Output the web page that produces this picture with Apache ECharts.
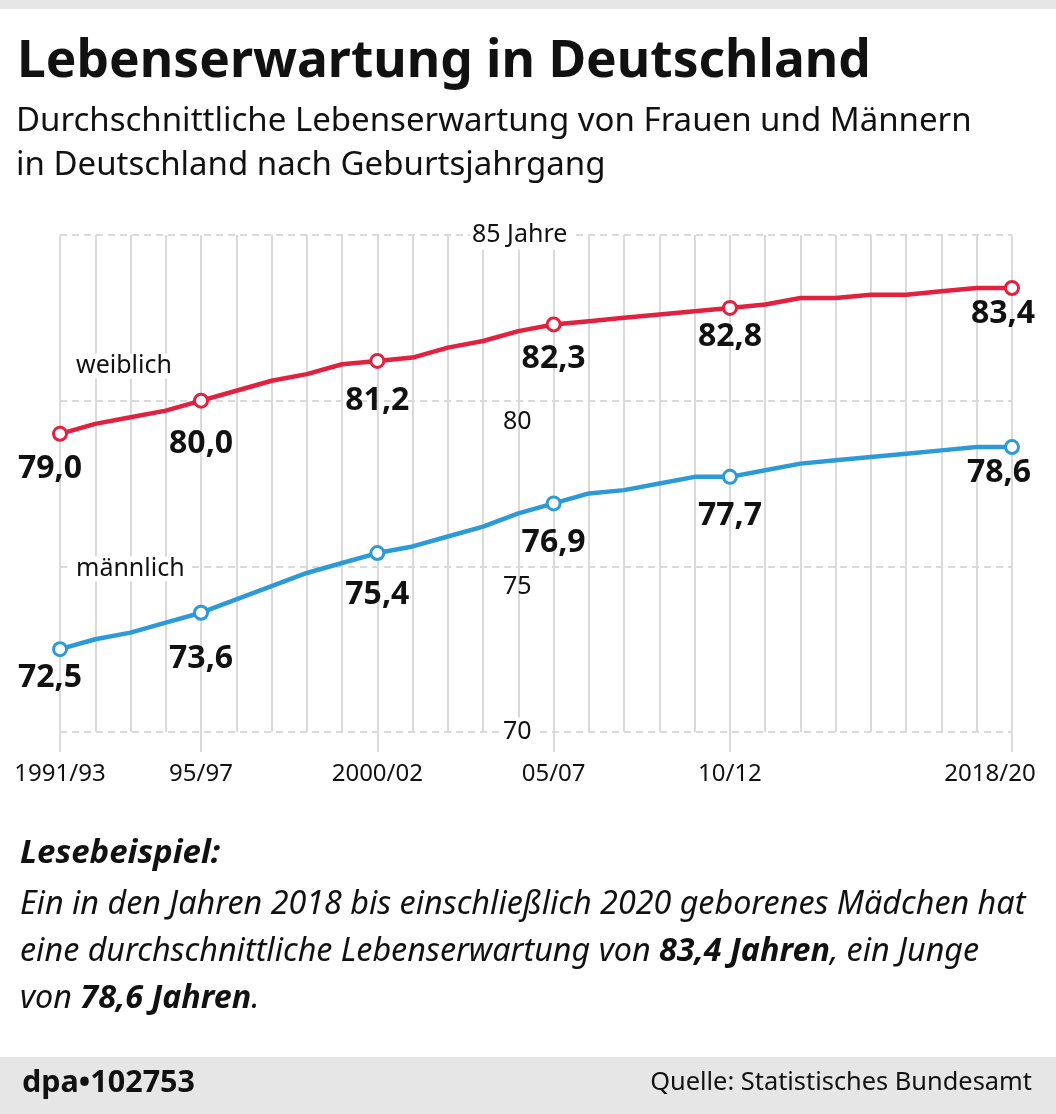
<!DOCTYPE html>
<html>
<head>
<meta charset="utf-8">
<script src="https://cdn.jsdelivr.net/npm/echarts@6/dist/echarts.min.js"></script>
<style>
html,body{margin:0;padding:0;background:#fff;}
#c{width:1056px;height:1114px;}
</style>
</head>
<body>
<div id="c"></div>
<script>
// ---- data ----
const categories = ['1991/93','1992/94','1993/95','1994/96','1995/97','1996/98','1997/99','1998/2000','1999/2001','2000/02','2001/03','2002/04','2003/05','2004/06','2005/07','2006/08','2007/09','2008/10','2009/11','2010/12','2011/13','2012/14','2013/15','2014/16','2015/17','2016/18','2017/19','2018/20'];
const weiblich = [79.0,79.3,79.5,79.7,80.0,80.3,80.6,80.8,81.1,81.2,81.3,81.6,81.8,82.1,82.3,82.4,82.5,82.6,82.7,82.8,82.9,83.1,83.1,83.2,83.2,83.3,83.4,83.4];
const maennlich = [72.5,72.8,73.0,73.3,73.6,74.0,74.4,74.8,75.1,75.4,75.6,75.9,76.2,76.6,76.9,77.2,77.3,77.5,77.7,77.7,77.9,78.1,78.2,78.3,78.4,78.5,78.6,78.6];
const tickIndex = [0, 4, 9, 14, 19, 27];
const tickLabels = ['1991/93','95/97','2000/02','05/07','10/12','2018/20'];
const yTicks = [70, 75, 80, 85];
const yTickLabels = ['70', '75', '80', '85 Jahre'];

// ---- label nudges (style only) ----
const nudgeW = {0:[-10,35], 4:[0,43], 9:[0,40], 14:[0,34], 19:[0,29], 27:[-9,26]};
const nudgeM = {0:[-10,29], 4:[0,46], 9:[0,42], 14:[0,40], 19:[0,39], 27:[-13,26]};

const RED = '#e2203f';
const BLUE = '#2c9ad7';
const GRID = '#dadada';
const FONT = 'Noto Sans';

function fmt(v){ return v.toFixed(1).replace('.', ','); }

function buildData(values, color, nudge){
  return values.map((v, i) => {
    if (tickIndex.indexOf(i) >= 0) {
      return {
        value: v,
        symbol: 'circle',
        symbolSize: 13,
        itemStyle: {color: '#fff', borderColor: color, borderWidth: 3},
        label: {show: true, position: 'inside', offset: nudge[i], formatter: p => fmt(p.value)}
      };
    }
    return {value: v, symbol: 'none', label: {show: false}};
  });
}

const chart = echarts.init(document.getElementById('c'), null, {renderer: 'canvas'});

const option = {
  animation: false,
  backgroundColor: '#fff',
  grid: {left: 60, right: 44, top: 235, bottom: 382, containLabel: false},
  xAxis: {
    type: 'category',
    data: categories,
    boundaryGap: false,
    axisLine: {show: false},
    axisTick: {
      show: true,
      length: 20,
      interval: (idx) => tickIndex.indexOf(idx) >= 0,
      lineStyle: {color: GRID, width: 2}
    },
    splitLine: {show: true, interval: 0, lineStyle: {color: GRID, width: 2, type: 'solid'}},
    axisLabel: {
      interval: (idx) => tickIndex.indexOf(idx) >= 0,
      margin: 30,
      fontFamily: FONT,
      fontSize: 24,
      color: '#111',
      formatter: (val, idx) => {
        const k = tickIndex.indexOf(idx);
        if (k < 0) return '';
        if (k === tickIndex.length - 1) return '{r|' + tickLabels[k] + '}';
        return tickLabels[k];
      },
      rich: {r: {fontFamily: FONT, fontSize: 24, color: '#111', padding: [0, 44, 0, 0]}}
    }
  },
  yAxis: {
    type: 'value',
    min: 70,
    max: 85,
    interval: 5,
    position: 'left',
    offset: -410,
    axisLine: {show: false},
    axisTick: {show: false},
    splitLine: {show: true, lineStyle: {color: GRID, width: 2, type: [7, 5]}},
    axisLabel: {
      inside: true,
      margin: 0,
      fontFamily: FONT,
      fontSize: 25,
      color: '#111',
      formatter: (val) => {
        const k = yTicks.indexOf(val);
        const t = yTickLabels[k];
        if (val === 85) return '{top|' + t + '}';
        if (val === 70) return '{sp|}{bot|' + t + '}';
        return '{sp|}{mid|' + t + '}';
      },
      rich: {
        top: {fontFamily: FONT, fontSize: 25, color: '#111', backgroundColor: '#fff', padding: [2, 6, 2, 2]},
        sp: {width: 33},
        bot: {fontFamily: FONT, fontSize: 25, color: '#111', backgroundColor: '#fff', padding: [2, 4, 2, 0]},
        mid: {fontFamily: FONT, fontSize: 25, color: '#111', padding: [42, 0, 0, 0]}
      }
    }
  },
  series: [
    {
      name: 'weiblich',
      type: 'line',
      data: buildData(weiblich, RED, nudgeW),
      showAllSymbol: true,
      lineStyle: {color: RED, width: 4.5},
      itemStyle: {color: RED},
      label: {fontFamily: FONT, fontSize: 32, fontWeight: 'bold', color: '#111'},
      z: 3
    },
    {
      name: 'männlich',
      type: 'line',
      data: buildData(maennlich, BLUE, nudgeM),
      showAllSymbol: true,
      lineStyle: {color: BLUE, width: 4.5},
      itemStyle: {color: BLUE},
      label: {fontFamily: FONT, fontSize: 32, fontWeight: 'bold', color: '#111'},
      z: 3
    }
  ],
  graphic: [
    {type: 'rect', shape: {x: 0, y: 0, width: 1056, height: 9}, style: {fill: '#e6e6e6'}},
    {type: 'text', x: 17, y: 62, style: {text: 'Lebenserwartung in Deutschland', fontFamily: FONT, fontSize: 51.5, fontWeight: 'bold', fill: '#111', verticalAlign: 'middle'}},
    {type: 'text', x: 16, y: 122, style: {text: 'Durchschnittliche Lebenserwartung von Frauen und Männern', fontFamily: FONT, fontSize: 33, fill: '#111', verticalAlign: 'middle'}},
    {type: 'text', x: 16, y: 166, style: {text: 'in Deutschland nach Geburtsjahrgang', fontFamily: FONT, fontSize: 33, fill: '#111', verticalAlign: 'middle'}},
    {type: 'text', x: 72, y: 366, z: 10, style: {text: 'weiblich', fontFamily: FONT, fontSize: 25, fill: '#111', verticalAlign: 'middle', backgroundColor: '#fff', padding: [0, 4, 0, 4]}},
    {type: 'text', x: 72, y: 569, z: 10, style: {text: 'männlich', fontFamily: FONT, fontSize: 25, fill: '#111', verticalAlign: 'middle', backgroundColor: '#fff', padding: [0, 4, 0, 4]}},
    {type: 'text', x: 20, y: 854, style: {text: 'Lesebeispiel:', fontFamily: FONT, fontSize: 33, fontWeight: 'bold', fontStyle: 'italic', fill: '#111', verticalAlign: 'middle'}},
    {type: 'text', x: 20, y: 905, style: {text: 'Ein in den Jahren 2018 bis einschließlich 2020 geborenes Mädchen hat', fontFamily: FONT, fontSize: 32.3, fontStyle: 'italic', fill: '#111', verticalAlign: 'middle'}},
    {type: 'text', x: 20, y: 952, style: {
      text: 'eine durchschnittliche Lebenserwartung von {b|83,4 Jahren}, ein Junge',
      fontFamily: FONT, fontSize: 32.3, fontStyle: 'italic', fill: '#111', verticalAlign: 'middle',
      rich: {b: {fontFamily: FONT, fontSize: 32.3, fontStyle: 'italic', fontWeight: 'bold', fill: '#111'}}
    }},
    {type: 'text', x: 20, y: 999, style: {
      text: 'von {b|78,6 Jahren}.',
      fontFamily: FONT, fontSize: 32.3, fontStyle: 'italic', fill: '#111', verticalAlign: 'middle',
      rich: {b: {fontFamily: FONT, fontSize: 32.3, fontStyle: 'italic', fontWeight: 'bold', fill: '#111'}}
    }},
    {type: 'rect', shape: {x: 0, y: 1057, width: 1056, height: 57}, style: {fill: '#e6e6e6'}},
    {type: 'text', x: 22, y: 1083, style: {text: 'dpa•102753', fontFamily: FONT, fontSize: 30.5, fontWeight: 'bold', fill: '#111', verticalAlign: 'middle'}},
    {type: 'text', x: 1032, y: 1083, style: {text: 'Quelle: Statistisches Bundesamt', fontFamily: FONT, fontSize: 25.4, fill: '#111', align: 'right', verticalAlign: 'middle'}}
  ]
};
chart.setOption(option);
</script>
</body>
</html>
